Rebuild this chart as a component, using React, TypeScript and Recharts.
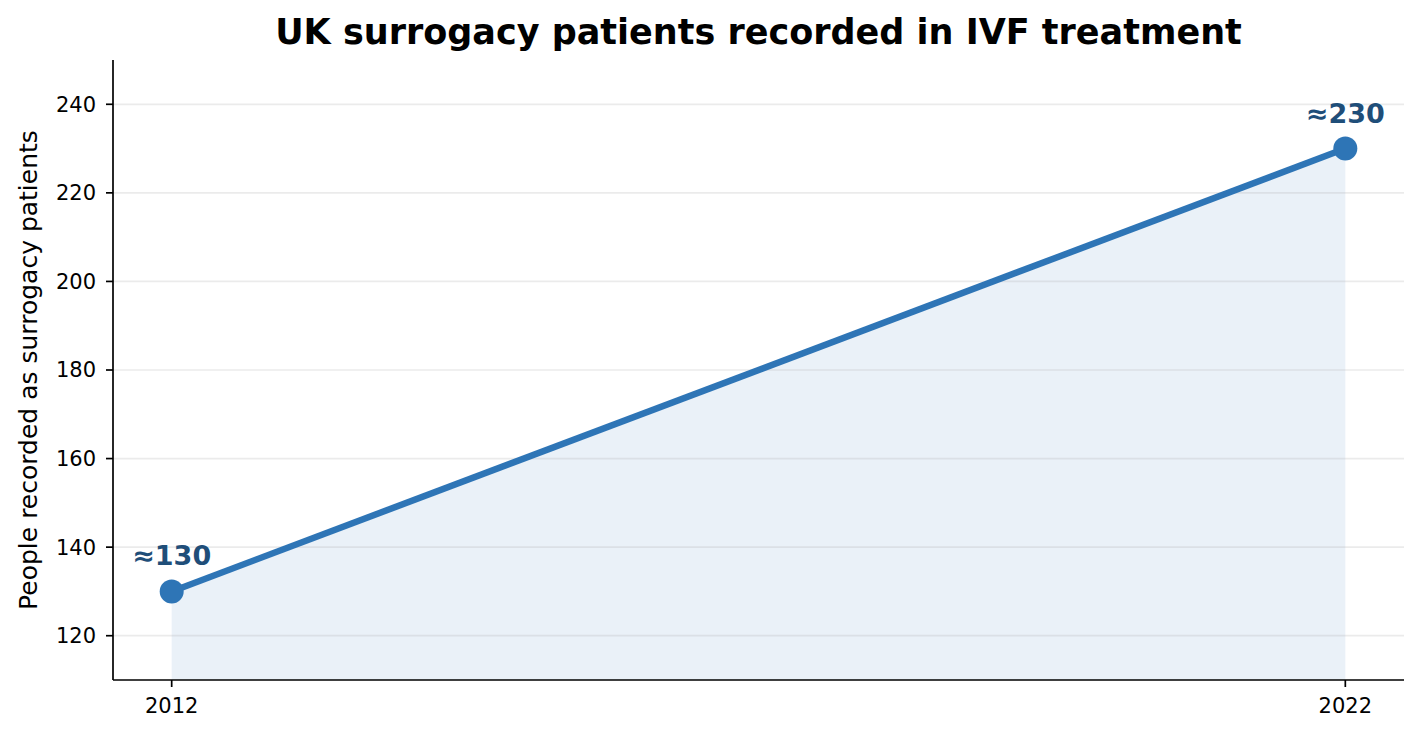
import React from "react";
import {
  ComposedChart,
  Area,
  Line,
  XAxis,
  YAxis,
  ReferenceLine,
  LabelList,
  Label,
} from "recharts";

const years = [2012, 2022];
const patients = [130, 230];
const pointLabels = ["≈130", "≈230"];
const yTicks = [120, 140, 160, 180, 200, 220, 240];

const data = years.map((year, i) => ({
  year,
  value: patients[i],
  label: pointLabels[i],
}));

const LINE_COLOR = "#2e75b6";
const LABEL_COLOR = "#1f4e79";
const FONT = "DejaVu Sans, sans-serif";

const App: React.FC = () => {
  return (
    <div
      style={{
        position: "absolute",
        left: 0,
        top: 0,
        width: 1422,
        height: 738,
        background: "#fff",
        fontFamily: FONT,
      }}
    >
      <div
        style={{
          position: "absolute",
          left: 113,
          width: 1291,
          top: 12,
          textAlign: "center",
          fontSize: 35,
          lineHeight: "normal",
          fontWeight: "bold",
          color: "#000",
          zIndex: 1,
        }}
      >
        UK surrogacy patients recorded in IVF treatment
      </div>
      <ComposedChart
        width={1422}
        height={738}
        data={data}
        margin={{ top: 60, right: 18, left: 13, bottom: 8 }}
      >
        <XAxis
          dataKey="year"
          type="number"
          domain={[2011.5, 2022.5]}
          ticks={years}
          height={50}
          stroke="#000"
          strokeWidth={1.7}
          tickSize={7}
          tickMargin={11}
          tick={{ fill: "#000", fontSize: 21, fontFamily: FONT }}
        />
        <YAxis
          type="number"
          domain={[110, 250]}
          ticks={yTicks}
          width={100}
          stroke="#000"
          strokeWidth={1.7}
          tickSize={7}
          tickMargin={10}
          tick={{ fill: "#000", fontSize: 21, fontFamily: FONT }}
        >
          <Label
            content={({ viewBox }: any) => {
              const cy = viewBox.y + viewBox.height / 2;
              return (
                <text
                  x={37}
                  y={cy}
                  transform={`rotate(-90, 37, ${cy})`}
                  textAnchor="middle"
                  fill="#000"
                  fontSize={25}
                  fontFamily={FONT}
                >
                  People recorded as surrogacy patients
                </text>
              );
            }}
          />
        </YAxis>
        <Area
          type="linear"
          dataKey="value"
          stroke="none"
          fill={LINE_COLOR}
          fillOpacity={0.1}
          isAnimationActive={false}
        />
        {yTicks.map((t) => (
          <ReferenceLine
            key={t}
            y={t}
            stroke="#b0b0b0"
            strokeOpacity={0.25}
            strokeWidth={1.7}
          />
        ))}
        <Line
          type="linear"
          dataKey="value"
          stroke={LINE_COLOR}
          strokeWidth={6.5}
          dot={{ r: 12, fill: LINE_COLOR, stroke: "none" }}
          activeDot={false}
          isAnimationActive={false}
        >
          <LabelList
            dataKey="label"
            position="top"
            offset={26}
            fill={LABEL_COLOR}
            fontSize={27}
            fontWeight="bold"
            fontFamily={FONT}
          />
        </Line>
      </ComposedChart>
    </div>
  );
};

export default App;
